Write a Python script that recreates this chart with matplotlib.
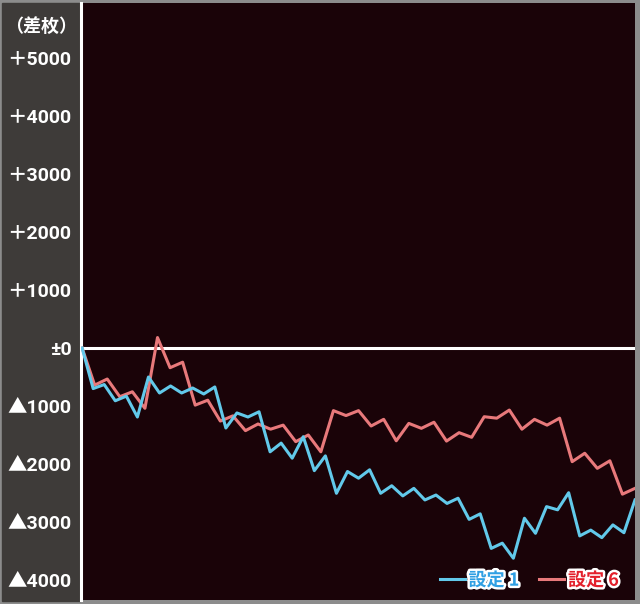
import numpy as np
import matplotlib
matplotlib.use("Agg")
import matplotlib.pyplot as plt
import matplotlib.patheffects as pe
from matplotlib.lines import Line2D
from matplotlib.patches import Rectangle
from matplotlib.transforms import blended_transform_factory

# 差枚推移 (設定1 / 設定6)
setting1 = [0, -700, -630, -910, -830, -1190, -500, -776, -655, -776,
            -690, -793, -672, -1380, -1120, -1190, -1100, -1790, -1640, -1900,
            -1530, -2115, -1860, -2505, -2130, -2245, -2100, -2505, -2375, -2550,
            -2420, -2620, -2535, -2680, -2590, -2955, -2860, -3455, -3365, -3625,
            -2935, -3195, -2735, -2790, -2495, -3240, -3140, -3270, -3050, -3185,
            -2620]
setting6 = [0, -640, -535, -840, -755, -1040, 180, -340, -245, -985,
            -900, -1260, -1170, -1425, -1310, -1400, -1330, -1615, -1500, -1790,
            -1080, -1165, -1080, -1345, -1230, -1600, -1300, -1385, -1280, -1605,
            -1460, -1540, -1185, -1210, -1070, -1400, -1230, -1330, -1210, -1960,
            -1815, -2075, -1945, -2520, -2420]

yticks = [5000, 4000, 3000, 2000, 1000, 0, -1000, -2000, -3000, -4000]
ylabels = ["＋5000", "＋4000", "＋3000", "＋2000", "＋1000", "±0",
           "▲1000", "▲2000", "▲3000", "▲4000"]
series_names = ["設定 1", "設定 6"]

blue = "#62c9ea"
red = "#e8797b"
fonts = ["Roboto", "Noto Sans CJK JP", "DejaVu Sans"]
cjk = ["Noto Sans CJK JP", "DejaVu Sans"]

fig = plt.figure(figsize=(6.4, 6.04), dpi=100, facecolor="#8c8c8c")
W, H = 640, 604
fig.patches.append(Rectangle((2 / W, 3 / H), 78 / W, 598 / H,
                             transform=fig.transFigure, color="#3e3b39", zorder=-5))

ax = fig.add_axes([81 / W, 4 / H, 554 / W, 597 / H])
ax.set_facecolor("#1a0308")

x1 = np.linspace(0, 1, len(setting1))
x6 = np.linspace(0, 1, len(setting6))
ax.axhline(0, color="white", lw=2.2, zorder=1)
ax.plot(x6, setting6, color=red, lw=2.2, zorder=3)
ax.plot(x1, setting1, color=blue, lw=2.2, zorder=4)

ax.set_xlim(-0.002, 1.0)
ax.set_ylim(-4345, 5948)
ax.set_xticks([])
ax.set_yticks(yticks)
ax.set_yticklabels(ylabels, fontsize=14, fontweight="bold", color="white",
                   family=fonts)
ax.tick_params(axis="y", length=0, pad=7)

for side in ["top", "right", "bottom"]:
    ax.spines[side].set_visible(False)
ax.spines["left"].set_color("white")
ax.spines["left"].set_linewidth(2.2)

tr = blended_transform_factory(ax.transAxes, ax.transData)
ax.text(-0.008, 5540, "（差枚）", transform=tr, ha="right", va="center",
        fontsize=13, fontweight="bold", color="white", family=cjk)

handles = [Line2D([], [], color=blue, lw=2.2), Line2D([], [], color=red, lw=2.2)]
leg = ax.legend(handles, series_names, loc="lower right", ncol=2, frameon=False,
                handlelength=1.4, handletextpad=0.2, columnspacing=1.1,
                bbox_to_anchor=(1.0, -0.01),
                prop={"family": cjk, "weight": "bold", "size": 13})
for txt, c in zip(leg.get_texts(), ["#2f9fe3", "#e3202b"]):
    txt.set_color(c)
    txt.set_path_effects([pe.withStroke(linewidth=3.5, foreground="white")])

fig.savefig("out.png", dpi=100, facecolor=fig.get_facecolor())
